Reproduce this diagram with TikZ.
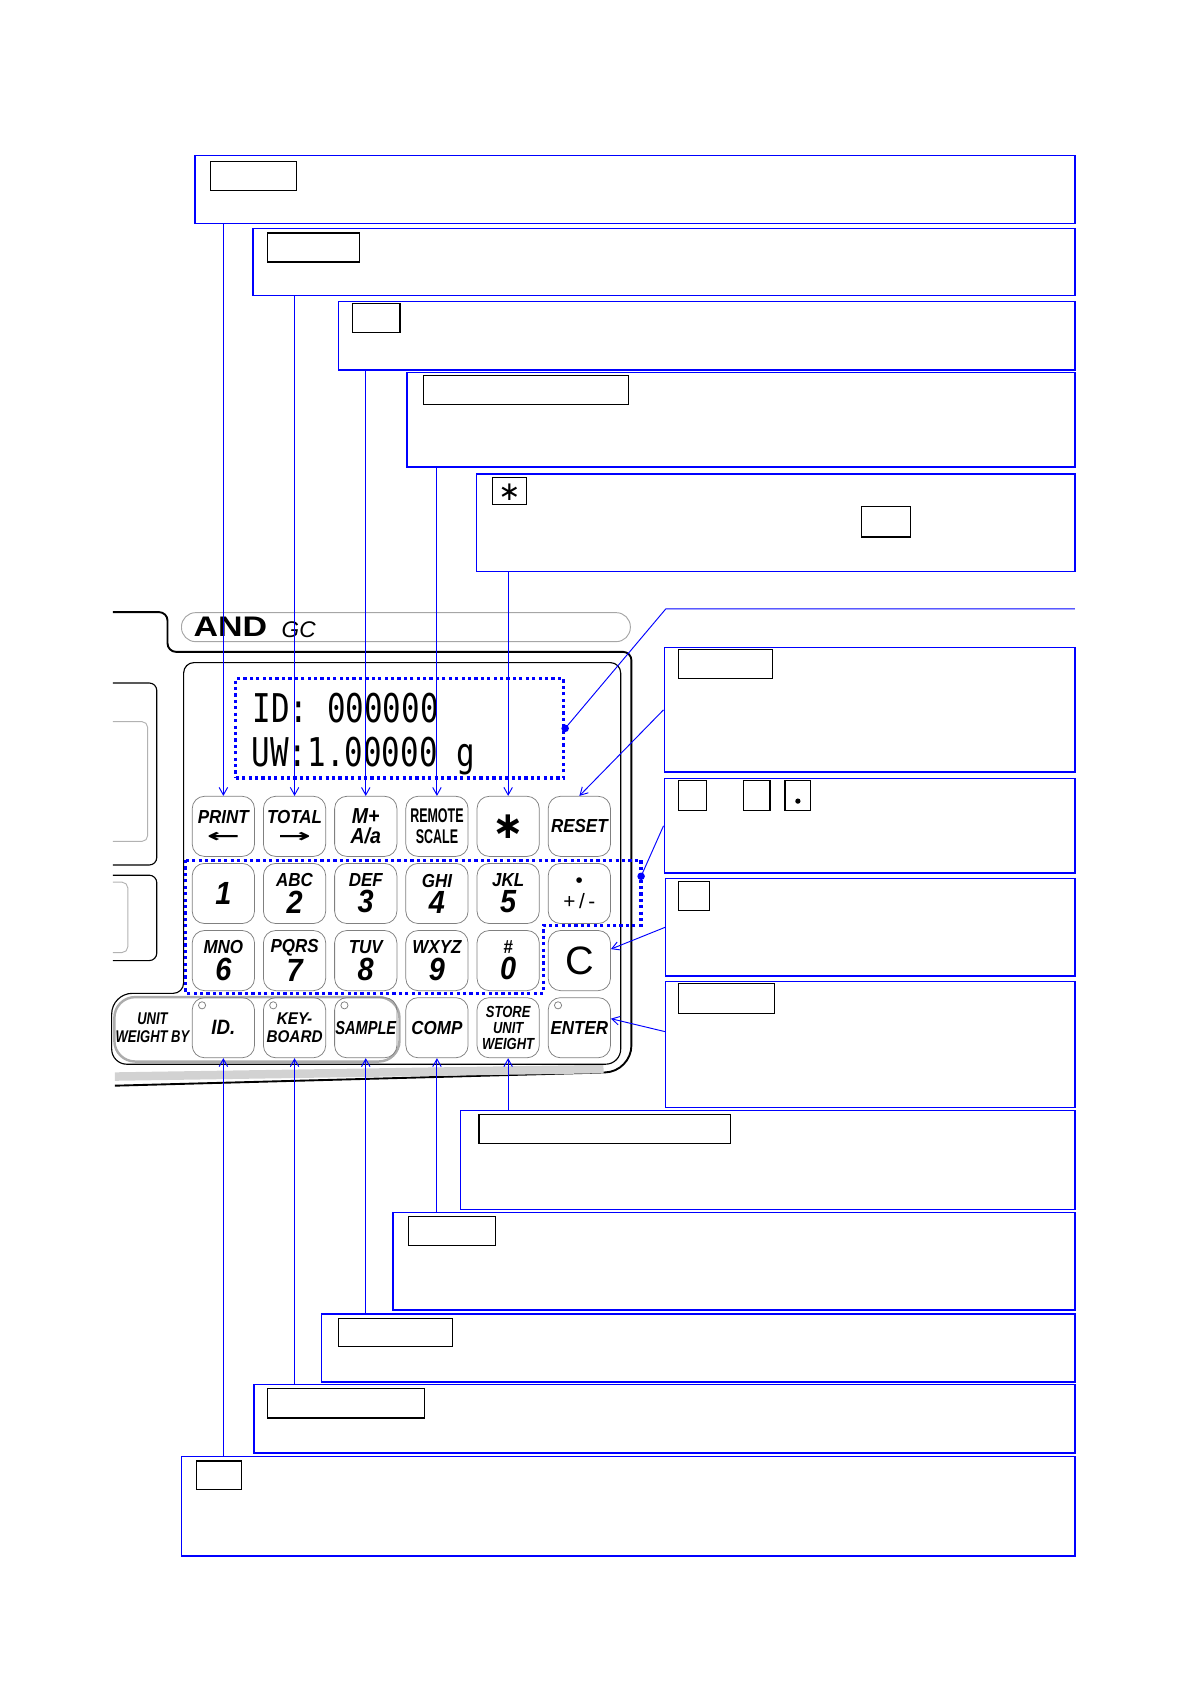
\documentclass[tikz,border=0pt]{standalone}
\usepackage{fontspec}
\usepackage{graphicx}
\setmainfont{Liberation Sans}
\newfontfamily\keyfamily[FakeStretch=0.9]{Liberation Sans}
\newfontfamily\lcdfamily{DejaVu Sans Mono}
\newfontfamily\signfamily{DejaVu Sans}
\usetikzlibrary{arrows.meta, calc, fit, positioning}

\newcommand{\keyword}{\keyfamily\bfseries\itshape\fontsize{10}{11}\selectfont}
\newcommand{\keysmall}{\fontsize{9}{9.5}\selectfont}
\newcommand{\keydigit}{\fontsize{17}{17}\selectfont}
\newcommand{\keyarrow}[1]{{\signfamily\bfseries\upshape\scalebox{2.1}[1]{#1}}}

\tikzset{
  infobox/.style={draw=blue, line width=0.7pt, inner sep=0pt},
  tagbox/.style={draw=black, line width=0.6pt},
  key/.style={draw=gray, line width=0.4pt, rounded corners=6.5pt, minimum width=1.16cm, minimum height=1.12cm, inner sep=0pt, align=center, font=\keyword},
  led/.style={draw=gray, line width=0.4pt, fill=white},
  pointer/.style={draw=blue, line width=0.5pt, -{Straight Barb[length=4pt,width=4.5pt]}},
  leader/.style={draw=blue, line width=0.5pt},
  dotframe/.style={draw=blue, line width=1.7pt, dash pattern=on 1.7pt off 1.7pt},
  body/.style={draw=black, line width=1pt},
  panel/.style={draw=black, line width=0.6pt},
  lcdtext/.style={inner sep=0pt, anchor=base west, font=\lcdfamily\fontsize{21}{21}\selectfont},
}

\begin{document}
\begin{tikzpicture}[x=0.02cm, y=-0.02cm]
\useasboundingbox (0,0) rectangle (1110,1569.1);

% description boxes, top
\node[infobox, fit={(181.5,145) (1001,208)}] (bPrint) {};
\node[infobox, fit={(235.5,213) (1001,275)}] (bTotal) {};
\node[infobox, fit={(315,281) (1001,344.5)}] (bMplus) {};
\node[infobox, fit={(379,347) (1001,435)}] (bRemote) {};
\node[infobox, fit={(444,441.5) (1001,532)}] (bStar) {};
% description boxes, right
\node[infobox, fit={(618.5,603) (1001,719)}] (bReset) {};
\node[infobox, fit={(618.5,725) (1001,813)}] (bNum) {};
\node[infobox, fit={(620,818) (1001,909)}] (bClear) {};
\node[infobox, fit={(620,914) (1001,1031)}] (bEnter) {};
% description boxes, bottom
\node[infobox, fit={(429,1034) (1001,1126)}] (bStore) {};
\node[infobox, fit={(366,1129) (1001,1220)}] (bComp) {};
\node[infobox, fit={(299.5,1223.5) (1001,1287)}] (bSample) {};
\node[infobox, fit={(236.5,1289) (1001,1353)}] (bKeyb) {};
\node[infobox, fit={(169,1356) (1001,1449)}] (bId) {};

% key name frames
\draw[tagbox] (196,150.5) rectangle (276,177);
\draw[tagbox] (249,217) rectangle (334.5,244);
\draw[tagbox] (328,283) rectangle (372.5,310);
\draw[tagbox] (394.5,350) rectangle (585,376.5);
\draw[tagbox] (459,445) rectangle (490,470);
\node[inner sep=0pt, font=\signfamily\fontsize{14}{14}\selectfont] (tagStar) at (474.5,458) {∗};
\draw[tagbox] (802,472) rectangle (848,500);
\draw[tagbox] (631.5,604.5) rectangle (719,631.5);
\draw[tagbox] (631.5,727) rectangle (657.5,754.5);
\draw[tagbox] (692,727) rectangle (717,754.5);
\draw[tagbox] (731,727) rectangle (755,754.5);
\fill (743,746) circle (1.4pt);
\draw[tagbox] (631.5,821) rectangle (660.5,848);
\draw[tagbox] (631.5,916) rectangle (721,943.5);
\draw[tagbox] (446,1038) rectangle (680,1065);
\draw[tagbox] (380,1133) rectangle (461.5,1160);
\draw[tagbox] (315,1227.5) rectangle (421,1254);
\draw[tagbox] (249,1293) rectangle (395,1320.5);
\draw[tagbox] (183,1360.5) rectangle (225,1387);

% scale body
\draw[body] (105,570) [rounded corners=4.5pt] -- (156,570) -- (156,607) -- (588,607) [rounded corners=14pt] -- (588,998) [sharp corners] -- (107,1011);
\draw[gray!35, line width=4.5pt] (107,1002.5) -- (562,995.5);
\draw[gray!70, line width=0.5pt, rounded corners=7.5pt] (169,570.5) rectangle (587,597.5);
\node[anchor=west, inner sep=0pt, font=\fontsize{15}{15}\selectfont\bfseries] (logo) at (180,584) {\scalebox{1.2}[1]{AND}};
\node[anchor=west, inner sep=0pt, font=\fontsize{12}{12}\selectfont\itshape] (model) at (262,586.5) {GC};
\draw[panel] (171,800) [rounded corners=5.5pt] -- (171,617) -- (578,617) [rounded corners=8pt] -- (578,991) -- (104,991) [rounded corners=11pt] -- (104,925) [rounded corners=5.5pt] -- (171,925) [sharp corners] -- (171,800);
\draw[panel, rounded corners=4pt] (105,636) -- (146,636) -- (146,805.5) -- (105,805.5);
\draw[gray!60, line width=0.5pt, rounded corners=3pt] (105,672) -- (137.5,672) -- (137.5,783.5) -- (105,783.5);
\draw[panel, rounded corners=4pt] (105,815) -- (146,815) -- (146,894.5) -- (105,894.5);
\draw[gray!60, line width=0.5pt, rounded corners=3pt] (105,821.5) -- (119,821.5) -- (119,887) -- (105,887);
\draw[gray!65, line width=1.3pt, rounded corners=11pt] (106.5,928.5) rectangle (372,988.5);

% display
\node[dotframe, inner sep=0pt, fit={(219.5,632) (524.8,724.5)}] (lcd) {};
\node[lcdtext] (lcdRowA) at (235,673) {\scalebox{0.78}[1]{ID:\ 000000}};
\node[lcdtext] (lcdRowB) at (234,714) {\scalebox{0.78}[1]{UW:1.00000\ g}};

% keys
\node[key] (kPrint) at (208,769.5) {PRINT\\[-1pt]\keyarrow{←}};
\node[key] (kTotal) at (274.3,769.5) {TOTAL\\[-1pt]\keyarrow{→}};
\node[key, font=\keyword\fontsize{11.5}{11}\selectfont] (kMplus) at (340.6,769.5) {M+\\A/a};
\node[key, font=\keyfamily\bfseries\fontsize{10.5}{11}\selectfont] (kRemote) at (406.9,769.5) {\scalebox{0.7}[1]{REMOTE}\\\scalebox{0.7}[1]{SCALE}};
\node[key, font=\signfamily\bfseries\upshape\fontsize{20}{20}\selectfont] (kStar) at (473.2,769.5) {∗};
\node[key] (kReset) at (539.5,769.5) {RESET};

\node[key] (kOne) at (208,832) {\raisebox{-4.5pt}{\keydigit 1}};
\node[key] (kTwo) at (274.3,832) {ABC\\[1pt]{\keydigit 2}};
\node[key] (kThree) at (340.6,832) {DEF\\[1pt]{\keydigit 3}};
\node[key] (kFour) at (406.9,832) {GHI\\[1pt]{\keydigit 4}};
\node[key] (kFive) at (473.2,832) {JKL\\[1pt]{\keydigit 5}};
\node[key, font=\fontsize{11}{10}\selectfont] (kSign) at (539.5,832) {\textbullet\\[1pt]+\,/\,-};

\node[key] (kSix) at (208,894.5) {MNO\\[1pt]{\keydigit 6}};
\node[key] (kSeven) at (274.3,894.5) {PQRS\\[1pt]{\keydigit 7}};
\node[key] (kEight) at (340.6,894.5) {TUV\\[1pt]{\keydigit 8}};
\node[key] (kNine) at (406.9,894.5) {WXYZ\\[1pt]{\keydigit 9}};
\node[key] (kZero) at (473.2,894.5) {\#\\[1pt]{\keydigit 0}};
\node[key, font=\fontsize{21}{21}\selectfont] (kC) at (539.5,894.5) {C};

\node[align=center, inner sep=0pt, font=\keyword\fontsize{9}{9.5}\selectfont] (lblUnit) at (142,957) {\scalebox{0.85}[1]{UNIT}\\\scalebox{0.85}[1]{WEIGHT BY}};
\node[key, font=\keyword\fontsize{11}{11}\selectfont] (kId) at (208,957) {ID.};
\node[key, font=\keyword\keysmall] (kKeyb) at (274.3,957) {KEY-\\BOARD};
\node[key] (kSample) at (340.6,957) {\scalebox{0.86}[1]{SAMPLE}};
\node[key] (kComp) at (406.9,957) {COMP};
\node[key, font=\keyword\fontsize{8.5}{8.6}\selectfont] (kStore) at (473.2,957) {\scalebox{0.9}[1]{STORE}\\\scalebox{0.9}[1]{UNIT}\\\scalebox{0.9}[1]{WEIGHT}};
\node[key] (kEnter) at (539.5,957) {ENTER};
\draw[led] ($(kId.north west)+(9.5,7.5)$) circle (1.9pt);
\draw[led] ($(kKeyb.north west)+(9.5,7.5)$) circle (1.9pt);
\draw[led] ($(kSample.north west)+(9.5,7.5)$) circle (1.9pt);
\draw[led] ($(kEnter.north west)+(9.5,7.5)$) circle (1.9pt);

% keypad frame
\draw[dotframe] (173,801) -- (597,801) -- (597,861.5) -- (506,861.5) -- (506,925) -- (173,925) -- cycle;
\coordinate (padDot) at (597,816);

% pointers
\draw[pointer] (bPrint.south -| kPrint.north) -- (kPrint.north);
\draw[pointer] (bTotal.south -| kTotal.north) -- (kTotal.north);
\draw[pointer] (bMplus.south -| kMplus.north) -- (kMplus.north);
\draw[pointer] (bRemote.south -| kRemote.north) -- (kRemote.north);
\draw[pointer] (bStar.south -| kStar.north) -- (kStar.north);
\draw[pointer] (bReset.west) -- (kReset.north);
\draw[pointer] (bClear.west) -- (kC.20);
\draw[pointer] ($(bEnter.north west)!0.4!(bEnter.south west)$) -- (kEnter.16);
\draw[pointer] (bStore.north -| kStore.south) -- (kStore.south);
\draw[pointer] (bComp.north -| kComp.south) -- (kComp.south);
\draw[pointer] (bSample.north -| kSample.south) -- (kSample.south);
\draw[pointer] (bKeyb.north -| kKeyb.south) -- (kKeyb.south);
\draw[pointer] (bId.north -| kId.south) -- (kId.south);

% leaders with dots
\coordinate (lcdBend) at (620,567);
\coordinate (lcdEnd) at (1001,567);
\draw[leader] (lcd.east) -- (lcdBend) -- (lcdEnd);
\fill[blue] (lcd.east) circle (2pt);
\draw[leader] (bNum.west) -- (padDot);
\fill[blue] (padDot) circle (2pt);
\end{tikzpicture}
\end{document}
